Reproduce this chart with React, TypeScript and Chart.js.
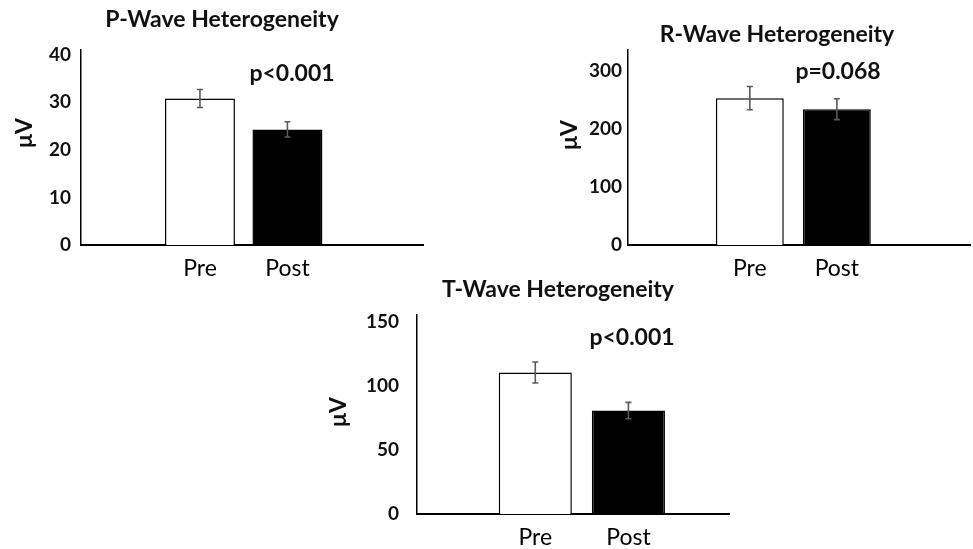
import React, { useEffect, useRef } from "react";
import { Chart, registerables } from "chart.js";

Chart.register(...registerables);

// ---------- data ----------
const categories = ["Pre", "Post"];

const pWaveValues = [30.8, 24.3];
const pWaveErrors = [1.9, 1.6];
const pWaveTicks = [0, 10, 20, 30, 40];

const rWaveValues = [253, 234];
const rWaveErrors = [20, 18];
const rWaveTicks = [0, 100, 200, 300];

const tWaveValues = [110.6, 80.8];
const tWaveErrors = [8.2, 6.4];
const tWaveTicks = [0, 50, 100, 150];

const chartTitles = ["P-Wave Heterogeneity", "R-Wave Heterogeneity", "T-Wave Heterogeneity"];
const pValueLabels = ["p<0.001", "p=0.068", "p<0.001"];
const unitLabel = "μV";
const barFills = ["#ffffff", "#000000"];

const FONT = 'Lato, "Open Sans", "DejaVu Sans", sans-serif';

type Panel = {
  values: number[];
  errors: number[];
  ticks: number[];
  title: string;
  pText: string;
  left: number;
  top: number;
  w: number;
  h: number;
  area: { left: number; right: number; top: number; bottom: number };
  yMax: number;
  xMin: number;
  xMax: number;
  barPct: number;
  tickPad: number;
  titlePos: [number, number];
  unitPos: [number, number];
  pPos: [number, number];
};

const panels: Panel[] = [
  {
    values: pWaveValues,
    errors: pWaveErrors,
    ticks: pWaveTicks,
    title: chartTitles[0],
    pText: pValueLabels[0],
    left: 0,
    top: 0,
    w: 450,
    h: 290,
    area: { left: 81, right: 423, top: 50, bottom: 245 },
    yMax: 41,
    xMin: -1.36,
    xMax: 2.55,
    barPct: 0.8,
    tickPad: 10,
    titlePos: [222, 27],
    unitPos: [32, 133],
    pPos: [292, 81],
  },
  {
    values: rWaveValues,
    errors: rWaveErrors,
    ticks: rWaveTicks,
    title: chartTitles[1],
    pText: pValueLabels[1],
    left: 540,
    top: 0,
    w: 433,
    h: 290,
    area: { left: 88, right: 430, top: 50, bottom: 245 },
    yMax: 336,
    xMin: -1.4,
    xMax: 2.53,
    barPct: 0.78,
    tickPad: 6,
    titlePos: [237, 42],
    unitPos: [37, 135],
    pPos: [298, 79],
  },
  {
    values: tWaveValues,
    errors: tWaveErrors,
    ticks: tWaveTicks,
    title: chartTitles[2],
    pText: pValueLabels[2],
    left: 320,
    top: 272,
    w: 440,
    h: 277,
    area: { left: 97, right: 409, top: 43, bottom: 242 },
    yMax: 155.5,
    xMin: -1.27,
    xMax: 2.08,
    barPct: 0.785,
    tickPad: 18,
    titlePos: [238, 25],
    unitPos: [26, 140],
    pPos: [312, 73],
  },
];

const annotPlugin = {
  id: "annot",
  afterDatasetsDraw(chart: any, _args: any, opts: any) {
    const ctx = chart.ctx;
    const xs = chart.scales.x;
    const ys = chart.scales.y;
    ctx.save();
    ctx.strokeStyle = "#5a5a5a";
    ctx.lineWidth = 1.6;
    (opts.values as number[]).forEach((v, i) => {
      const e = opts.errors[i];
      const x = xs.getPixelForValue(i);
      const y1 = ys.getPixelForValue(v + e);
      const y2 = ys.getPixelForValue(v - e);
      ctx.beginPath();
      ctx.moveTo(x, y1);
      ctx.lineTo(x, y2);
      ctx.moveTo(x - 3, y1);
      ctx.lineTo(x + 3, y1);
      ctx.moveTo(x - 3, y2);
      ctx.lineTo(x + 3, y2);
      ctx.stroke();
    });
    ctx.restore();
  },
  afterDraw(chart: any, _args: any, opts: any) {
    const ctx = chart.ctx;
    ctx.save();
    ctx.fillStyle = "#111";
    ctx.textAlign = "center";
    ctx.textBaseline = "alphabetic";
    ctx.font = `bold 23px ${FONT}`;
    ctx.fillText(opts.title, opts.titlePos[0], opts.titlePos[1]);
    ctx.font = `bold 23px ${FONT}`;
    ctx.fillText(opts.pText, opts.pPos[0], opts.pPos[1]);
    ctx.translate(opts.unitPos[0], opts.unitPos[1]);
    ctx.rotate(-Math.PI / 2);
    ctx.font = `bold 23px ${FONT}`;
    ctx.fillText(unitLabel, 0, 0);
    ctx.restore();
  },
};

function BarPanel({ panel }: { panel: Panel }) {
  const ref = useRef<HTMLCanvasElement | null>(null);
  useEffect(() => {
    if (!ref.current) return;
    const chart = new Chart(ref.current, {
      type: "bar",
      data: {
        datasets: [
          {
            data: panel.values.map((v, i) => ({ x: i, y: v })),
            backgroundColor: barFills,
            borderColor: "#000",
            borderWidth: 1.5,
            barPercentage: panel.barPct,
            categoryPercentage: 1,
          } as any,
        ],
      },
      options: {
        responsive: false,
        animation: false,
        events: [],
        layout: {
          padding: { left: 0, top: panel.area.top, right: panel.w - panel.area.right, bottom: 0 },
        },
        plugins: {
          legend: { display: false },
          tooltip: { enabled: false },
          title: { display: false },
          annot: {
            values: panel.values,
            errors: panel.errors,
            title: panel.title,
            pText: panel.pText,
            titlePos: panel.titlePos,
            unitPos: panel.unitPos,
            pPos: panel.pPos,
          },
        } as any,
        scales: {
          x: {
            type: "linear",
            offset: false,
            min: panel.xMin,
            max: panel.xMax,
            grid: { display: false, drawTicks: false },
            border: { display: true, color: "#000", width: 2 },
            ticks: {
              padding: 10,
              color: "#000",
              font: { family: FONT, size: 23, weight: "normal" },
              maxRotation: 0,
              autoSkip: false,
              callback: (v: any) => categories[v as number] ?? "",
            },
            afterBuildTicks: (s: any) => {
              s.ticks = categories.map((_, i) => ({ value: i }));
            },
            afterFit: (s: any) => {
              s.height = panel.h - panel.area.bottom;
            },
          },
          y: {
            type: "linear",
            min: 0,
            max: panel.yMax,
            grid: { display: false, drawTicks: false },
            border: { display: true, color: "#000", width: 1.5 },
            ticks: {
              padding: panel.tickPad,
              color: "#111",
              font: { family: FONT, size: 19, weight: "bold" },
            },
            afterBuildTicks: (s: any) => {
              s.ticks = panel.ticks.map((v) => ({ value: v }));
            },
            afterFit: (s: any) => {
              s.width = panel.area.left;
            },
          },
        } as any,
      },
      plugins: [annotPlugin],
    });
    return () => chart.destroy();
  }, [panel]);
  return (
    <canvas
      ref={ref}
      width={panel.w}
      height={panel.h}
      style={{ position: "absolute", left: panel.left, top: panel.top, width: panel.w, height: panel.h }}
    />
  );
}

export default function App() {
  return (
    <div style={{ position: "absolute", left: 0, top: 0, width: 973, height: 549, background: "#fff", overflow: "hidden" }}>
      {panels.map((p, i) => (
        <BarPanel key={i} panel={p} />
      ))}
    </div>
  );
}
